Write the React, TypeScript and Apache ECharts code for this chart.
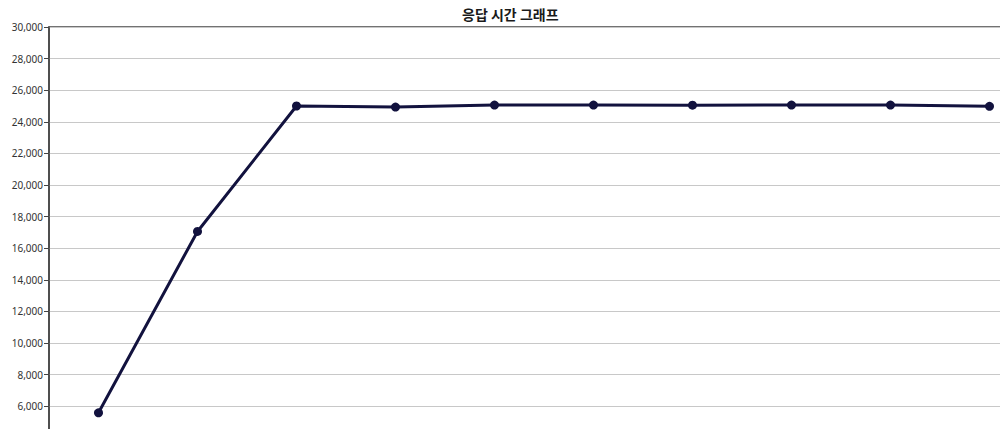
import * as echarts from "echarts";
import React, { useEffect, useRef } from "react";

// 측정 구간 (x축 눈금은 아래쪽이 잘려서 보이지 않음)
const categories = ["1", "2", "3", "4", "5", "6", "7", "8", "9", "10"];
// 응답 시간 값
const responseTimes = [5580, 17060, 25000, 24930, 25060, 25060, 25050, 25060, 25060, 24980];

const App: React.FC = () => {
  const chartRef = useRef<HTMLDivElement | null>(null);

  useEffect(() => {
    document.body.style.margin = "0";
    const chart = echarts.init(chartRef.current, null, { renderer: "svg" });
    chart.setOption({
      animation: false,
      title: {
        text: "응답 시간 그래프",
        left: 457,
        top: 2,
        textStyle: {
          fontFamily: "Noto Sans CJK KR",
          fontSize: 14,
          fontWeight: "bold",
          color: "#1a1a1a",
        },
      },
      grid: {
        left: 49,
        top: 27,
        right: 1,
        bottom: 9,
        show: true,
        borderColor: "#444",
        borderWidth: 1.5,
      },
      xAxis: {
        type: "category",
        data: categories,
        boundaryGap: true,
        axisLine: { lineStyle: { color: "#444" } },
        axisTick: { show: false },
        axisLabel: { show: false },
      },
      yAxis: {
        type: "value",
        min: 0,
        max: 30000,
        interval: 2000,
        axisLine: { show: true, lineStyle: { color: "#444", width: 1.5 } },
        axisTick: { show: true, length: 5, lineStyle: { color: "#444" } },
        axisLabel: {
          fontFamily: "Noto Sans",
          fontSize: 10,
          color: "#333",
          margin: 6,
          // 화면 아래로 잘리는 눈금 글자는 비워 둠
          formatter: (v: number) => (v < 6000 ? "" : v.toLocaleString("en-US")),
        },
        splitLine: { lineStyle: { color: "#c8c8c8", width: 1 } },
      },
      series: [
        {
          name: "응답 시간",
          type: "line",
          data: responseTimes,
          symbol: "circle",
          symbolSize: 9,
          lineStyle: { color: "#12123e", width: 3 },
          itemStyle: { color: "#12123e" },
        },
      ],
    });

    return () => {
      chart.dispose();
    };
  }, []);

  // 원본 그림은 오른쪽과 아래쪽이 잘려 있어서 더 큰 차트를 잘라서 보여줌
  return (
    <div style={{ width: 1000, height: 429, overflow: "hidden" }}>
      <div ref={chartRef} style={{ width: 1040, height: 510 }}></div>
    </div>
  );
};

export default App;
